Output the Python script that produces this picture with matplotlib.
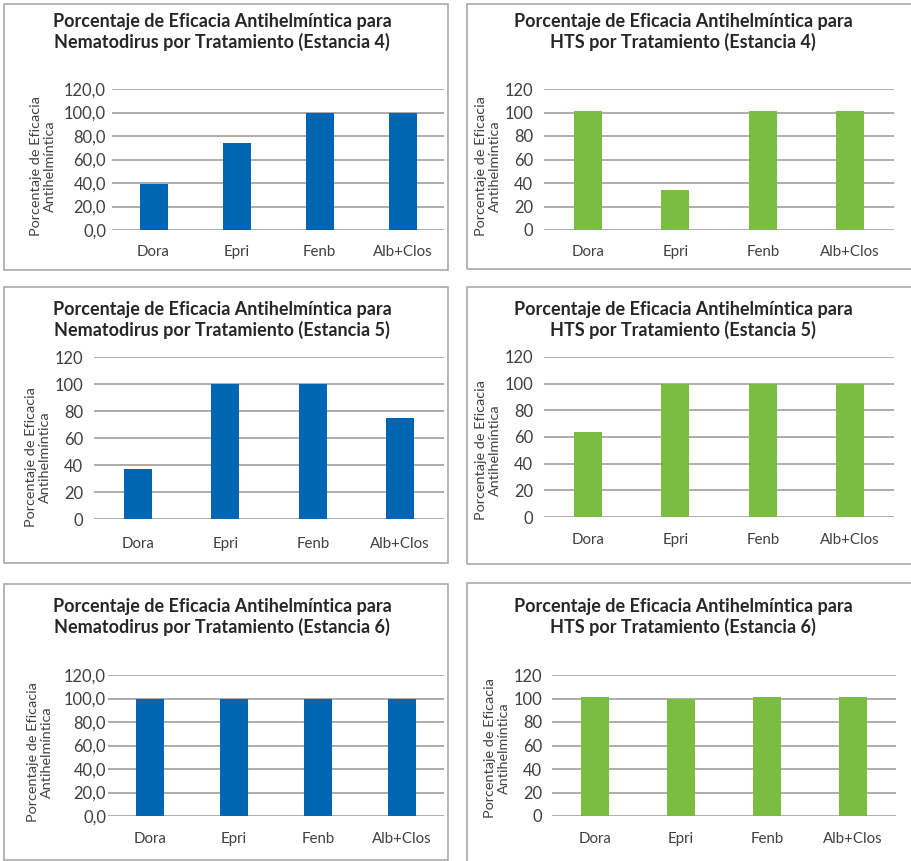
import matplotlib.pyplot as plt
from matplotlib.patches import Rectangle
from matplotlib.ticker import FuncFormatter

plt.rcParams['font.family'] = ['Lato', 'DejaVu Sans']

W, H = 911, 861

tratamientos = ['Dora', 'Epri', 'Fenb', 'Alb+Clos']

nemato_e4 = [39.4, 74.0, 100, 100]
hts_e4 = [101, 34, 101, 101]
nemato_e5 = [37, 100, 100, 75]
hts_e5 = [64, 100, 100, 100]
nemato_e6 = [100, 100, 100, 100]
hts_e6 = [101, 100, 101, 101]

titulos = [
    'Porcentaje de Eficacia Antihelmíntica para\nNematodirus por Tratamiento (Estancia 4)',
    'Porcentaje de Eficacia Antihelmíntica para\nHTS por Tratamiento (Estancia 4)',
    'Porcentaje de Eficacia Antihelmíntica para\nNematodirus por Tratamiento (Estancia 5)',
    'Porcentaje de Eficacia Antihelmíntica para\nHTS por Tratamiento (Estancia 5)',
    'Porcentaje de Eficacia Antihelmíntica para\nNematodirus por Tratamiento (Estancia 6)',
    'Porcentaje de Eficacia Antihelmíntica para\nHTS por Tratamiento (Estancia 6)',
]
series = [nemato_e4, hts_e4, nemato_e5, hts_e5, nemato_e6, hts_e6]
decimales = [True, False, False, False, True, False]

AZUL = '#0066b3'
VERDE = '#7bbd42'
colores = [AZUL, VERDE, AZUL, VERDE, AZUL, VERDE]

# cajas de cada grafico (px): x0, y0, x1, y1
cajas = [(4, 4, 448, 270), (467, 4, 925, 269),
         (4, 287, 448, 563), (467, 287, 925, 564),
         (4, 584, 448, 860), (467, 583, 925, 870)]
# area de trazado (px): x0, y_120, x1, y_0
areas = [(112, 89, 444, 230), (544, 89, 894, 230),
         (94, 357, 444, 519), (544, 357, 894, 517),
         (108, 675, 444, 816), (552, 675, 896, 816)]
titulo_x = [222, 683, 222, 683, 222, 683]
titulo_y = [32, 32, 320, 320, 617, 617]
ylabel_pos = [(43, 166), (488, 166), (38, 457), (488, 450), (40, 752), (497, 748)]
ytick_pad = [6, 11, 11, 11, 2, 10]
xlab_dist = [22, 22, 25, 23, 23, 23]


def fx(x):
    return x / W


def fy(y):
    return 1 - y / H


fig = plt.figure(figsize=(W / 100, H / 100), dpi=100)

for i in range(6):
    bx0, by0, bx1, by1 = cajas[i]
    fig.patches.append(Rectangle((fx(bx0), fy(by1)), (bx1 - bx0) / W, (by1 - by0) / H,
                                 transform=fig.transFigure, fill=False,
                                 edgecolor='#a9a9a9', linewidth=1.2, zorder=0))

    x0, y120, x1, y0 = areas[i]
    ax = fig.add_axes([fx(x0), fy(y0), (x1 - x0) / W, (y0 - y120) / H])
    ancho = 28 / ((x1 - x0) / 4)
    ax.bar(range(4), series[i], width=ancho, color=colores[i], zorder=3)
    ax.set_xlim(-0.5, 3.5)
    ax.set_ylim(0, 120)
    ax.set_yticks(range(0, 121, 20))
    if decimales[i]:
        ax.yaxis.set_major_formatter(FuncFormatter(lambda v, p: f'{v:.1f}'.replace('.', ',')))
    else:
        ax.yaxis.set_major_formatter(FuncFormatter(lambda v, p: f'{v:.0f}'))
    ax.set_xticks(range(4))
    ax.set_xticklabels(tratamientos)
    ax.grid(axis='y', color='#a6a6a6', linewidth=1.3, zorder=0)
    ax.set_axisbelow(True)
    for s in ax.spines.values():
        s.set_visible(False)
    ax.tick_params(axis='both', length=0, colors='#404040')
    ax.tick_params(axis='x', labelsize=10.8, pad=(xlab_dist[i] - 7) * 0.72)
    ax.tick_params(axis='y', labelsize=11.9, pad=ytick_pad[i] * 0.72)

    fig.text(fx(titulo_x[i]), fy(titulo_y[i]), titulos[i], ha='center', va='center',
             fontsize=13, fontweight='bold', color='#262626', linespacing=1.25)

    lx, ly = ylabel_pos[i]
    fig.text(fx(lx), fy(ly), 'Porcentaje de Eficacia\nAntihelmíntica', rotation=90,
             ha='center', va='center', fontsize=10.4, color='#404040', linespacing=1.2)

fig.savefig('out.png', dpi=100)
